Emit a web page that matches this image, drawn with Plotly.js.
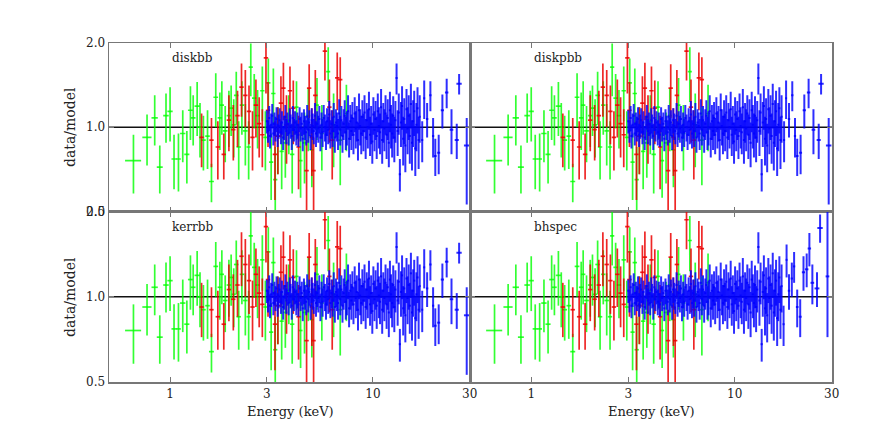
<!DOCTYPE html>
<html>
<head>
<meta charset="utf-8">
<script src="https://cdn.plot.ly/plotly-3.0.1.min.js"></script>
<style>
  html, body { margin: 0; padding: 0; background: #fff; }
  #chart { width: 872px; height: 436px; }
</style>
</head>
<body>
<div id="chart"></div>
<script>
// Panel names (model used for each fit)
const panelNames = ['diskbb', 'diskpbb', 'kerrbb', 'bhspec'];

// Green instrument: energy (keV), data/model, error, energy half-width
const greenE = [0.66, 0.77, 0.84, 0.89, 0.955, 1.00, 1.046, 1.10, 1.155, 1.21,
  1.26, 1.30, 1.36, 1.405, 1.46, 1.53, 1.60, 1.68, 1.76, 1.80,
  1.87, 1.95, 2.00, 2.06, 2.12, 2.18, 2.26, 2.35, 2.44, 2.50,
  2.60, 2.70, 2.85, 2.95, 3.05, 3.15, 3.23, 3.30, 3.40, 3.55,
  3.70, 3.85, 4.00, 4.20, 4.40, 4.60, 4.80, 5.00, 5.30, 5.60,
  6.02, 6.40, 6.90, 7.40];
const greenR = [0.76, 0.92, 1.08, 0.72, 1.10, 1.14, 0.77, 0.77, 0.95, 0.80,
  1.15, 1.08, 1.19, 1.00, 0.90, 0.93, 0.64, 1.28, 1.08, 1.20,
  0.97, 1.10, 1.17, 1.02, 1.30, 0.85, 1.20, 0.97, 0.85, 1.64,
  1.27, 1.10, 1.35, 0.92, 1.44, 0.75, 1.32, 0.65, 0.93, 0.82,
  0.88, 1.05, 0.80, 1.18, 0.76, 0.88, 1.10, 0.83, 1.20, 0.95,
  1.58, 1.02, 0.90, 1.12];
const greenErr = [0.18, 0.19, 0.22, 0.14, 0.22, 0.25, 0.17, 0.18, 0.20, 0.17,
  0.25, 0.22, 0.26, 0.22, 0.20, 0.22, 0.10, 0.28, 0.25, 0.26,
  0.22, 0.25, 0.24, 0.24, 0.28, 0.20, 0.26, 0.24, 0.20, 0.35,
  0.28, 0.26, 0.30, 0.22, 0.32, 0.20, 0.30, 0.20, 0.25, 0.22,
  0.22, 0.25, 0.22, 0.28, 0.20, 0.25, 0.28, 0.22, 0.30, 0.25,
  0.35, 0.30, 0.28, 0.30];
const greenXe = [0.06, 0.04, 0.03, 0.03, 0.03, 0.03, 0.03, 0.03, 0.035, 0.035,
  0.035, 0.035, 0.04, 0.04, 0.04, 0.04, 0.045, 0.045, 0.045, 0.045,
  0.05, 0.05, 0.05, 0.05, 0.055, 0.055, 0.055, 0.06, 0.06, 0.06,
  0.065, 0.065, 0.07, 0.07, 0.075, 0.075, 0.08, 0.08, 0.08, 0.085,
  0.09, 0.09, 0.1, 0.1, 0.1, 0.11, 0.11, 0.12, 0.12, 0.13,
  0.14, 0.14, 0.15, 0.16];

// Red instrument
const redE = [1.43, 1.60, 1.72, 1.84, 1.95, 2.05, 2.15, 2.25, 2.35, 2.45,
  2.55, 2.65, 2.75, 2.85, 2.97, 3.04, 3.29, 3.40, 3.52, 3.62,
  3.75, 3.90, 4.05, 4.30, 4.71, 4.85, 5.00, 5.10, 5.20, 5.80,
  6.10, 6.30, 6.67, 6.90];
const redR = [0.92, 0.90, 0.85, 0.80, 1.06, 0.98, 1.10, 1.39, 1.30, 1.14,
  0.92, 1.20, 1.03, 0.94, 1.77, 1.15, 0.80, 0.93, 1.22, 1.38,
  1.02, 1.35, 1.17, 0.85, 0.70, 1.38, 0.92, 0.70, 1.30, 1.87,
  1.18, 0.90, 1.50, 1.48];
const redErr = [0.20, 0.18, 0.20, 0.15, 0.24, 0.22, 0.25, 0.30, 0.30, 0.27,
  0.22, 0.28, 0.25, 0.22, 0.45, 0.30, 0.25, 0.25, 0.30, 0.32,
  0.28, 0.30, 0.30, 0.25, 0.20, 0.30, 0.25, 0.22, 0.30, 0.40,
  0.30, 0.25, 0.35, 0.30];

// Blue instrument, dense part 3-17 keV
const blueE = [3.00, 3.04, 3.08, 3.11, 3.15, 3.19, 3.23, 3.27, 3.31, 3.35,
  3.39, 3.43, 3.47, 3.52, 3.56, 3.61, 3.65, 3.70, 3.74, 3.79,
  3.84, 3.89, 3.93, 3.98, 4.03, 4.08, 4.13, 4.19, 4.24, 4.29,
  4.35, 4.40, 4.46, 4.51, 4.57, 4.63, 4.69, 4.74, 4.80, 4.86,
  4.93, 4.99, 5.05, 5.11, 5.18, 5.24, 5.31, 5.38, 5.44, 5.51,
  5.58, 5.65, 5.72, 5.80, 5.87, 5.94, 6.02, 6.09, 6.17, 6.25,
  6.33, 6.41, 6.49, 6.57, 6.65, 6.73, 6.82, 6.90, 6.99, 7.08,
  7.17, 7.26, 7.35, 7.44, 7.54, 7.63, 7.73, 7.83, 7.92, 8.02,
  8.13, 8.23, 8.33, 8.44, 8.54, 8.65, 8.76, 8.87, 8.98, 9.09,
  9.21, 9.32, 9.44, 9.56, 9.68, 9.80, 9.93, 10.05, 10.18, 10.31,
  10.44, 10.57, 10.70, 10.84, 10.97, 11.11, 11.25, 11.39, 11.54, 11.68,
  11.83, 11.98, 12.13, 12.28, 12.44, 12.59, 12.75, 12.91, 13.08, 13.24,
  13.41, 13.58, 13.75, 13.92, 14.10, 14.27, 14.45, 14.64, 14.82, 15.01,
  15.20, 15.39, 15.58, 15.78, 15.98, 16.18, 16.38, 16.59, 16.80, 17.01];
const blueR = [1.05, 0.97, 1.08, 0.93, 1.02, 1.10, 0.95, 1.03, 0.99, 1.07,
  0.94, 1.01, 1.06, 0.96, 1.04, 0.92, 1.00, 1.09, 0.97, 1.03,
  0.95, 1.06, 1.01, 0.93, 1.08, 0.98, 1.04, 0.96, 1.02, 0.94,
  1.07, 0.99, 1.03, 0.91, 1.05, 1.00, 0.96, 1.09, 0.98, 1.04,
  0.93, 1.06, 1.01, 0.97, 1.10, 0.95, 1.03, 0.99, 1.07, 0.92,
  1.02, 0.96, 1.08, 1.00, 0.94, 1.05, 0.98, 1.11, 0.95, 1.03,
  0.97, 1.09, 0.92, 1.04, 1.01, 0.95, 1.12, 0.98, 1.06, 0.93,
  1.03, 1.10, 0.96, 1.00, 1.14, 0.91, 1.05, 0.97, 1.08, 0.94,
  1.12, 0.99, 1.04, 0.90, 1.15, 1.01, 0.95, 1.09, 0.97, 1.13,
  0.92, 1.06, 1.00, 1.16, 0.94, 1.03, 0.89, 1.11, 0.98, 1.07,
  0.93, 1.14, 1.01, 0.96, 1.18, 0.90, 1.05, 0.99, 1.12, 0.94,
  1.08, 0.88, 1.15, 1.02, 0.95, 1.10, 0.92, 1.06, 1.50, 0.97,
  1.13, 0.68, 1.04, 1.19, 0.91, 1.07, 0.86, 1.16, 0.99, 1.10,
  0.93, 1.21, 0.88, 1.05, 1.14, 0.84, 1.02, 1.17, 0.90, 1.09];
const blueErr = [0.10, 0.09, 0.11, 0.09, 0.10, 0.11, 0.09, 0.10, 0.10, 0.11,
  0.09, 0.10, 0.11, 0.09, 0.10, 0.09, 0.10, 0.11, 0.10, 0.10,
  0.09, 0.11, 0.10, 0.10, 0.11, 0.09, 0.10, 0.10, 0.11, 0.09,
  0.11, 0.10, 0.10, 0.09, 0.11, 0.10, 0.10, 0.11, 0.10, 0.11,
  0.10, 0.11, 0.11, 0.10, 0.12, 0.10, 0.11, 0.11, 0.12, 0.10,
  0.11, 0.11, 0.12, 0.11, 0.11, 0.12, 0.11, 0.13, 0.11, 0.12,
  0.12, 0.13, 0.11, 0.12, 0.12, 0.12, 0.14, 0.12, 0.13, 0.12,
  0.13, 0.15, 0.13, 0.14, 0.16, 0.13, 0.15, 0.14, 0.15, 0.14,
  0.16, 0.15, 0.15, 0.14, 0.17, 0.15, 0.15, 0.16, 0.15, 0.17,
  0.15, 0.16, 0.16, 0.18, 0.15, 0.16, 0.15, 0.17, 0.16, 0.17,
  0.16, 0.18, 0.17, 0.16, 0.19, 0.16, 0.17, 0.17, 0.18, 0.17,
  0.18, 0.16, 0.19, 0.18, 0.17, 0.19, 0.17, 0.18, 0.19, 0.18,
  0.19, 0.09, 0.19, 0.21, 0.18, 0.20, 0.17, 0.21, 0.19, 0.20,
  0.19, 0.22, 0.18, 0.20, 0.21, 0.17, 0.20, 0.22, 0.19, 0.21];

// Blue high-energy tail (diskbb, diskpbb, kerrbb)
const tailE = [17.5, 17.9, 18.5, 19.2, 19.8, 20.3, 21.1, 22.0, 23.1, 24.4, 25.9, 26.6, 29.0];
const tailR = [0.90, 1.27, 1.07, 1.30, 0.93, 0.79, 0.81, 1.15, 1.33, 0.98, 0.90, 1.43, 0.86];
const tailUp = [0.15, 0.20, 0.15, 0.16, 0.15, 0.12, 0.13, 0.16, 0.16, 0.18, 0.13, 0.12, 0.22];
const tailDn = [0.15, 0.20, 0.15, 0.16, 0.15, 0.12, 0.13, 0.16, 0.16, 0.18, 0.13, 0.12, 0.33];
const tailXe = [0.2, 0.2, 0.25, 0.25, 0.25, 0.3, 0.35, 0.4, 0.45, 0.5, 0.6, 0.8, 0.9];

// Blue high-energy tail (bhspec)
const bhE = [17.4, 18.0, 18.5, 19.1, 19.6, 20.3, 21.0, 21.8, 22.6, 23.3, 24.1, 25.4, 26.3, 28.6];
const bhR = [0.80, 1.35, 1.05, 1.16, 1.28, 0.92, 0.85, 1.22, 1.25, 1.48, 1.12, 1.07, 1.75, 1.18];
const bhUp = [0.13, 0.18, 0.15, 0.16, 0.16, 0.14, 0.13, 0.17, 0.17, 0.20, 0.18, 0.15, 0.20, 0.90];
const bhDn = [0.13, 0.18, 0.15, 0.16, 0.16, 0.14, 0.13, 0.17, 0.17, 0.20, 0.18, 0.15, 0.20, 0.46];
const bhXe = [0.2, 0.2, 0.25, 0.25, 0.25, 0.3, 0.35, 0.4, 0.45, 0.45, 0.5, 0.7, 0.8, 0.6];

const xTicks = [1, 3, 10, 30];
const yTicks = [0.5, 1, 2];
const yTickText = ['0.5', '1.0', '2.0'];

const FONT = 'DejaVu Serif, serif';
const GREEN = 'rgba(0,255,0,0.8)';
const RED = 'rgba(235,0,0,0.85)';
const BLUE = 'rgba(0,0,255,0.82)';

function errTrace(x, y, ey, ex, color, ax, eyMinus, w) {
  const errY = { type: 'data', array: ey, color: color, thickness: w, width: 0 };
  if (eyMinus) { errY.symmetric = false; errY.arrayminus = eyMinus; }
  const errX = Array.isArray(ex)
    ? { type: 'data', array: ex, color: color, thickness: w, width: 0 }
    : { type: 'percent', value: ex, color: color, thickness: w, width: 0 };
  return {
    x: x, y: y, type: 'scatter', mode: 'markers',
    marker: { size: 1, opacity: 0, color: color },
    error_y: errY, error_x: errX,
    xaxis: 'x' + ax, yaxis: 'y' + ax,
    hoverinfo: 'skip', showlegend: false
  };
}

const traces = [];
['', '2', '3', '4'].forEach((ax, i) => {
  traces.push(errTrace(greenE, greenR, greenErr, greenXe, GREEN, ax, null, 1.7));
  traces.push(errTrace(redE, redR, redErr, 2.5, RED, ax, null, 1.7));
  traces.push(errTrace(blueE, blueR, blueErr, 1.2, BLUE, ax, null, 2));
  if (i === 3) traces.push(errTrace(bhE, bhR, bhUp, bhXe, BLUE, ax, bhDn, 2));
  else traces.push(errTrace(tailE, tailR, tailUp, tailXe, BLUE, ax, tailDn, 2));
});

const xL = [109 / 872, 470 / 872];
const xR = [470 / 872, 832 / 872];
const yT = [1 - 211.5 / 436, 1 - 43 / 436];
const yB = [1 - 382 / 436, 1 - 211.5 / 436];

function xAxis(domain, labels, anchor) {
  return {
    type: 'log', domain: domain, anchor: anchor,
    range: [Math.log10(0.5), Math.log10(30.1)],
    tickvals: xTicks, ticktext: xTicks.map(String),
    showticklabels: labels, ticks: 'inside', ticklen: 5, tickcolor: '#777',
    showline: true, linecolor: '#777', linewidth: 1.5, mirror: 'ticks',
    showgrid: false, zeroline: false,
    tickfont: { family: FONT, size: 12, color: '#222' }
  };
}
function yAxis(domain, labels, anchor) {
  return {
    type: 'log', domain: domain, anchor: anchor,
    range: [Math.log10(0.5), Math.log10(2)],
    tickvals: yTicks, ticktext: yTickText,
    showticklabels: labels, ticks: 'inside', ticklen: 5, tickcolor: '#777',
    showline: true, linecolor: '#777', linewidth: 1.5, mirror: 'ticks',
    showgrid: false, zeroline: false,
    tickfont: { family: FONT, size: 12, color: '#222' }
  };
}

const shapes = ['x', 'x2', 'x3', 'x4'].map((xa, i) => ({
  type: 'line', xref: xa + ' domain', yref: (i === 0 ? 'y' : 'y' + (i + 1)),
  x0: 0, x1: 1, y0: 1, y1: 1, layer: 'below',
  line: { color: '#111', width: 1.5 }
}));

const annotations = panelNames.map((name, i) => ({
  text: name, showarrow: false,
  xref: (i === 0 ? 'x' : 'x' + (i + 1)) + ' domain',
  yref: (i === 0 ? 'y' : 'y' + (i + 1)) + ' domain',
  x: 0.17, y: 0.91, xanchor: 'left', yanchor: 'middle',
  font: { family: FONT, size: 12, color: '#222' }
}));
[127, 297].forEach(py => annotations.push({
  text: 'data/model', showarrow: false, textangle: -90,
  xref: 'paper', yref: 'paper', x: 70 / 872, y: 1 - py / 436,
  xanchor: 'center', yanchor: 'middle',
  font: { family: FONT, size: 14, color: '#222' }
}));
[290, 651].forEach(px => annotations.push({
  text: 'Energy (keV)', showarrow: false,
  xref: 'paper', yref: 'paper', x: px / 872, y: 1 - 411 / 436,
  xanchor: 'center', yanchor: 'middle',
  font: { family: FONT, size: 13, color: '#222' }
}));

const layout = {
  width: 872, height: 436,
  margin: { l: 0, r: 0, t: 0, b: 0 },
  paper_bgcolor: '#fff', plot_bgcolor: '#fff',
  showlegend: false,
  xaxis: xAxis(xL, false, 'y'), yaxis: yAxis(yT, true, 'x'),
  xaxis2: xAxis(xR, false, 'y2'), yaxis2: yAxis(yT, false, 'x2'),
  xaxis3: xAxis(xL, true, 'y3'), yaxis3: yAxis(yB, true, 'x3'),
  xaxis4: xAxis(xR, true, 'y4'), yaxis4: yAxis(yB, false, 'x4'),
  shapes: shapes,
  annotations: annotations
};

Plotly.newPlot('chart', traces, layout, { displayModeBar: false, staticPlot: true });
</script>
</body>
</html>
